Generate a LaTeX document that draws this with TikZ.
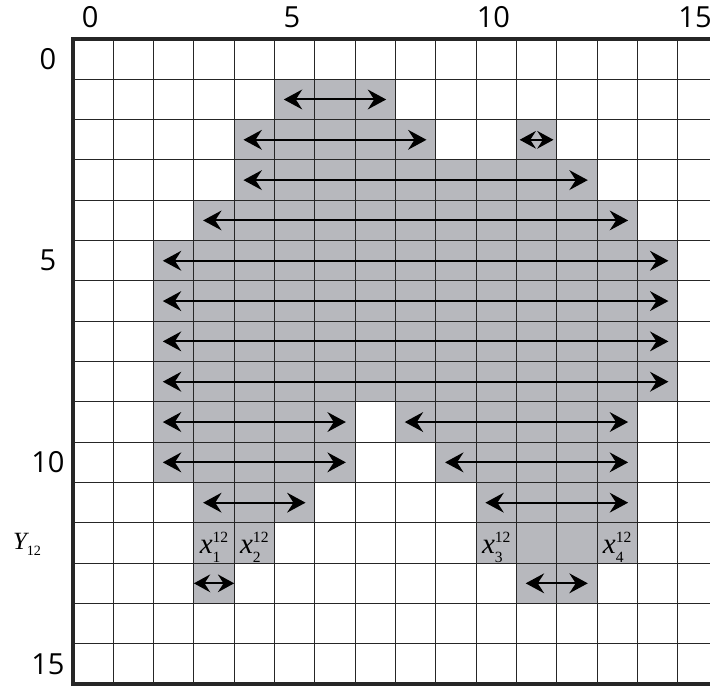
\documentclass[tikz,border=0pt]{standalone}
\usepackage{fontspec}
\setmainfont{Liberation Serif}
\newfontfamily\axisfont{Open Sans}
\usetikzlibrary{arrows.meta}
\definecolor{cellshade}{RGB}{183,184,189}
\newcommand{\smallnum}{\fontsize{11}{11}\selectfont}
\newcommand{\xlab}[1]{{\fontsize{20.5}{20.5}\selectfont\itshape x}\rlap{\raisebox{8.2pt}{\smallnum 12}}\raisebox{-5.8pt}{\smallnum #1}\hphantom{\smallnum 2}}
\begin{document}
\begin{tikzpicture}[x=1cm,y=1cm,
  gridline/.style={line width=0.7pt, black!85},
  frameline/.style={line width=2.4pt, black!85},
  span/.style={line width=1.4pt, {Stealth[length=13pt,width=14pt,inset=4.5pt]}-{Stealth[length=13pt,width=14pt,inset=4.5pt]}},
  smallspan/.style={line width=1.4pt, {Stealth[length=11.5pt,width=12.5pt,inset=4pt]}-{Stealth[length=11.5pt,width=12.5pt,inset=4pt]}},
  axlab/.style={font=\axisfont\fontsize{20.5}{20.5}\selectfont, inner sep=0pt},
  mathlab/.style={anchor=base, inner sep=0pt}
]
\useasboundingbox (-1.808,0.967) rectangle (15.801,-16.071);
% shaded cells
\foreach \r/\a/\b in {1/5/8, 2/4/9, 2/11/12, 3/4/13, 4/3/14, 5/2/15, 6/2/15, 7/2/15, 8/2/15,
  9/2/7, 9/8/14, 10/2/7, 10/9/14, 11/3/6, 11/10/14, 12/3/5, 12/10/14, 13/3/4, 13/11/13}
  \fill[cellshade] (\a,-\r) rectangle (\b,{-\r-1});
% grid
\draw[gridline] (0,0) grid (16,-16);
\draw[frameline] (16,0) -- (0,0) -- (0,-16) -- (16,-16);
% arrows
\foreach \r/\a/\b in {1/5/8, 2/4/9, 3/4/13, 4/3/14, 5/2/15, 6/2/15, 7/2/15, 8/2/15,
  9/2/7, 9/8/14, 10/2/7, 10/9/14, 11/3/6, 11/10/14, 13/11/13}
  \draw[span] ({\a+0.23},{-\r-0.5}) -- ({\b-0.23},{-\r-0.5});
\draw[smallspan] (11.08,-2.5) -- (11.92,-2.5);
\draw[smallspan] (3.0,-13.5) -- (4.0,-13.5);
% axis labels
\foreach \c in {0,5,10,15}
  \node[axlab] (col\c) at ({\c+0.43},0.55) {\c};
\foreach \r in {0,5,10,15}
  \node[axlab] (row\r) at (-0.62,{-\r-0.5}) {\r};
\node[anchor=base west, inner sep=0pt] (ylab) at (-1.49,-12.65)
  {{\fontsize{17.5}{17.5}\selectfont\itshape Y}\raisebox{-4.2pt}{\fontsize{10}{10}\selectfont 12}};
% x labels
\node[mathlab] (x1) at (3.5,-12.77) {\xlab{1}};
\node[mathlab] (x2) at (4.5,-12.77) {\xlab{2}};
\node[mathlab] (x3) at (10.5,-12.77) {\xlab{3}};
\node[mathlab] (x4) at (13.5,-12.77) {\xlab{4}};
\end{tikzpicture}
\end{document}
